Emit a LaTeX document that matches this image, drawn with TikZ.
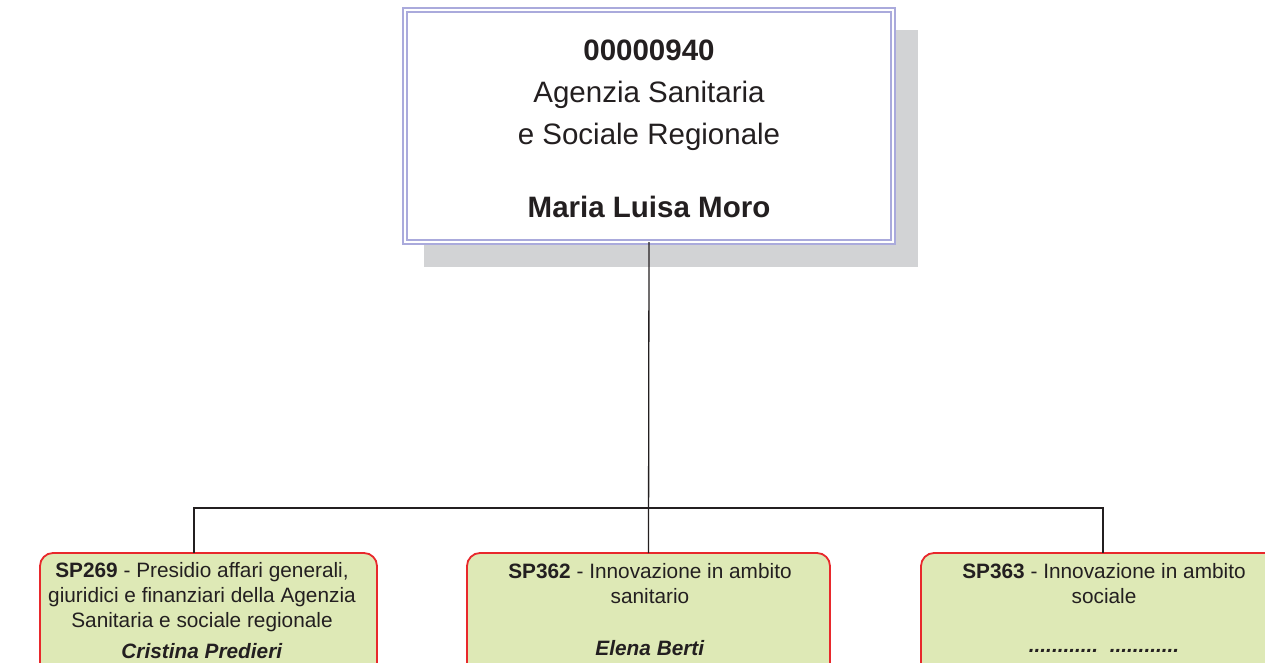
\documentclass[tikz,border=0pt]{standalone}
\usepackage{fontspec}
\setmainfont{Liberation Sans}
\definecolor{lav}{RGB}{170,170,220}
\definecolor{shadowgray}{RGB}{210,211,213}
\definecolor{boxgreen}{RGB}{222,233,182}
\definecolor{boxred}{RGB}{232,40,44}
\definecolor{ink}{RGB}{35,31,32}
\tikzset{
  topbox/.style={draw=lav, fill=white, double=white, double distance=2pt, line width=2pt, outer sep=0pt, inner sep=0pt},
  unitbox/.style={draw=boxred, fill=boxgreen, line width=1.8pt, rounded corners=13pt, outer sep=0pt, inner sep=0pt, minimum height=140pt},
  toptext/.style={anchor=north, align=center, inner sep=0pt, text=ink, font=\fontsize{29.5}{42}\selectfont},
  unittext/.style={anchor=north, align=center, inner sep=0pt, text=ink, font=\fontsize{20.8}{25}\selectfont},
  conn/.style={draw=ink, line width=1.3pt}
}
\begin{document}
\begin{tikzpicture}[x=1pt,y=-1pt]
\useasboundingbox (0,0) rectangle (1265,663);
\clip (0,0) rectangle (1265,663);
% shadow of the top box
\fill[shadowgray] (424,30) rectangle (918,267);
% top box
\node[topbox, minimum width=488pt, minimum height=232pt] (top) at (649,126) {};
\node[toptext] (toptxt) at (649,35) {\rule{0pt}{25pt}\textbf{00000940}\\ Agenzia Sanitaria\\ e Sociale Regionale\\[31pt] \textbf{Maria Luisa Moro}};
% bottom boxes
\node[unitbox, anchor=north, minimum width=337pt] (b1) at (208.5,553) {};
\node[unitbox, anchor=north, minimum width=363pt] (b2) at (648.5,553) {};
\node[unitbox, anchor=north, minimum width=364pt] (b3) at (1103,553) {};
\node[unittext] (t1) at (202,559) {\rule{0pt}{18pt}\textbf{SP269} - Presidio affari generali,\\ giuridici e finanziari della Agenzia\\ Sanitaria e sociale regionale\\[6pt] \textbf{\textit{Cristina Predieri}}};
\node[unittext] (t2) at (650,560) {\rule{0pt}{18pt}\textbf{SP362} - Innovazione in ambito\\ sanitario\\[27pt] \textbf{\textit{Elena Berti}}};
\node[unittext] (t3) at (1104,560) {\rule{0pt}{18pt}\textbf{SP363} - Innovazione in ambito\\ sociale\\[24pt] \textbf{\textit{............\ \ ............}}};
% connectors
\coordinate (j) at (649,508);
\coordinate (c1) at (194,553);
\coordinate (c3) at (1103,553);
\draw[conn] (top.south) -- (b2.north);
\draw[conn] (c1) -- (c1|-j) -- (c3|-j) -- (c3);
\end{tikzpicture}
\end{document}
